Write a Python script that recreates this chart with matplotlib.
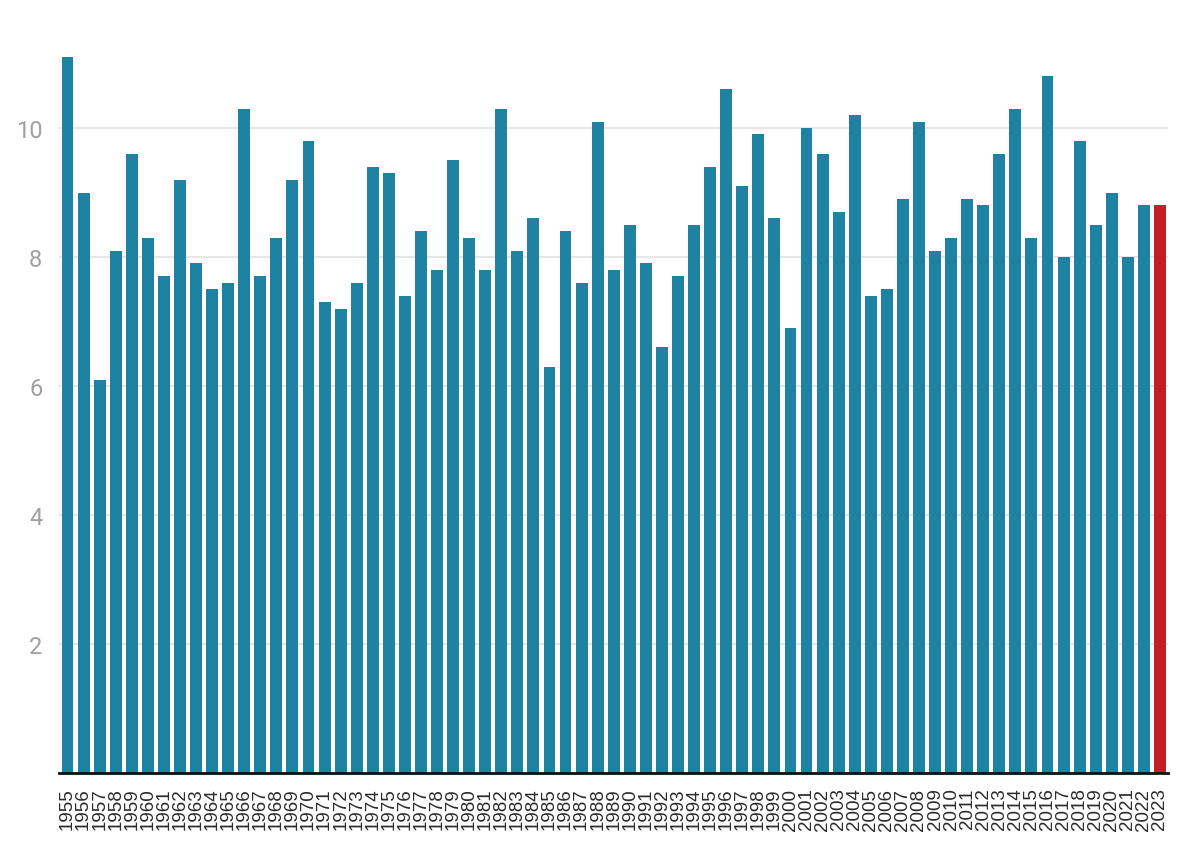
import matplotlib
matplotlib.use("Agg")
import matplotlib.pyplot as plt

# years and values
years = list(range(1955, 2024))
values = [11.1, 9.0, 6.1, 8.1, 9.6, 8.3, 7.7, 9.2, 7.9, 7.5,
          7.6, 10.3, 7.7, 8.3, 9.2, 9.8, 7.3, 7.2, 7.6, 9.4,
          9.3, 7.4, 8.4, 7.8, 9.5, 8.3, 7.8, 10.3, 8.1, 8.6,
          6.3, 8.4, 7.6, 10.1, 7.8, 8.5, 7.9, 6.6, 7.7, 8.5,
          9.4, 10.6, 9.1, 9.9, 8.6, 6.9, 10.0, 9.6, 8.7, 10.2,
          7.4, 7.5, 8.9, 10.1, 8.1, 8.3, 8.9, 8.8, 9.6, 10.3,
          8.3, 10.8, 8.0, 9.8, 8.5, 9.0, 8.0, 8.8, 8.8]
y_ticks = [2, 4, 6, 8, 10]

teal = "#1e82a2"
red = "#c41e24"
colors = [teal] * (len(years) - 1) + [red]

fig = plt.figure(figsize=(11.88, 8.62), dpi=100)
ax = fig.add_axes([59 / 1188, 88 / 862, 1109 / 1188, (774 - 51.6) / 862])

x = list(range(len(years)))
ax.bar(x, values, width=0.74, color=colors, zorder=3)

ax.set_xlim(-0.53, len(years) - 0.5)
ax.set_ylim(0, 11.2)

ax.set_yticks(y_ticks)
ax.set_yticklabels([str(t) for t in y_ticks], family="Roboto", fontsize=17, color="#a0a0a0")
ax.yaxis.grid(True, color="#e6e6e6", linewidth=1.5, zorder=0)
ax.tick_params(axis="y", length=0, pad=12)

ax.set_xticks(x)
ax.set_xticklabels([str(y) for y in years], rotation=90, family="Liberation Sans",
                   fontsize=13.5, color="#2a2a2a")
ax.tick_params(axis="x", length=0, pad=10.5)

for s in ["top", "right", "left"]:
    ax.spines[s].set_visible(False)
ax.spines["bottom"].set_color("#111111")
ax.spines["bottom"].set_linewidth(2)
ax.spines["bottom"].set_zorder(4)

fig.savefig("out.png", dpi=100, facecolor="white")
